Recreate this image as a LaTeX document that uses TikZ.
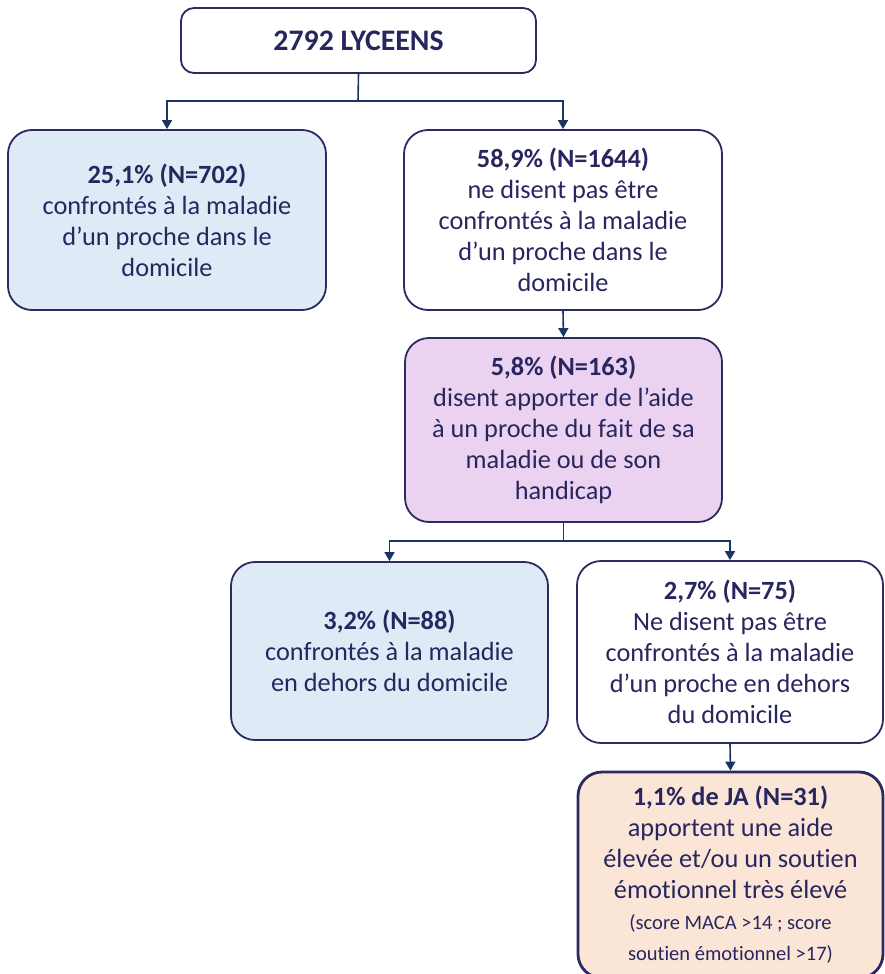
\documentclass[tikz,border=0pt]{standalone}
\usepackage{fontspec}
\setmainfont{Carlito}[Ligatures=NoCommon]
\usetikzlibrary{arrows.meta}

\definecolor{txtnavy}{RGB}{40,38,94}
\definecolor{boxline}{RGB}{43,42,98}
\definecolor{linkblue}{RGB}{28,52,100}
\definecolor{fillblue}{RGB}{222,234,246}
\definecolor{fillpurple}{RGB}{235,210,240}
\definecolor{fillorange}{RGB}{251,229,214}

\newcommand{\smalltxt}{\fontsize{20.5}{27}\selectfont}

\begin{document}
\begin{tikzpicture}[x=1pt,y=-1pt,
    box/.style={draw=boxline, line width=1.8pt, rounded corners=24pt, align=center,
        text=txtnavy, inner sep=0pt, font=\fontsize{26.3}{31}\selectfont},
    link/.style={draw=linkblue, line width=1.6pt},
    arr/.style={link, -{Triangle[length=9pt,width=10pt]}}]

    \useasboundingbox (0,0) rectangle (884,974);

    \node[box, rounded corners=13pt, minimum width=355, minimum height=65,
        font=\fontsize{29.8}{34}\selectfont\bfseries] at (358.5,40.5) (box0) {2792 LYCEENS};

    \node[box, fill=fillblue, minimum width=318, minimum height=180] at (167,220) (box1)
        {\textbf{25,1\% (N=702)}\\confrontés à la maladie\\d’un proche dans le\\domicile};
    \node[box, fill=white, minimum width=318, minimum height=180] at (563,220) (box2)
        {\textbf{58,9\% (N=1644)}\\ne disent pas être\\confrontés à la maladie\\d’un proche dans le\\domicile};

    \node[box, fill=fillpurple, minimum width=317, minimum height=184] at (563.5,430) (box3)
        {\textbf{5,8\% (N=163)}\\disent apporter de l’aide\\à un proche du fait de sa\\maladie ou de son\\handicap};

    \node[box, fill=fillblue, minimum width=317, minimum height=178] at (389.5,651) (box4)
        {\textbf{3,2\% (N=88)}\\confrontés à la maladie\\en dehors du domicile};
    \node[box, fill=white, minimum width=306, minimum height=182] at (730,652) (box5)
        {\textbf{2,7\% (N=75)}\\Ne disent pas être\\confrontés à la maladie\\d’un proche en dehors\\du domicile};

    \node[box, fill=fillorange, line width=2.8pt, minimum width=305, minimum height=206] at (730.5,875) (box6)
        {\textbf{1,1\% de JA (N=31)}\\apportent une aide\\élevée et/ou un soutien\\émotionnel très élevé\\
         \smalltxt (score MACA >14 ; score\\\smalltxt soutien émotionnel >17)};

    \coordinate (fork0) at (358,101);
    \coordinate (fork1) at (563.5,541);

    \draw[link] (box0.south) -- (fork0);
    \draw[arr] (fork0) -| (box1.north);
    \draw[arr] (fork0) -| (box2.north);
    \draw[arr] (box2.south) -- (box3.north);
    \draw[link] (box3.south) -- (fork1);
    \draw[arr] (fork1) -| (box4.north);
    \draw[arr] (fork1) -| (box5.north);
    \draw[arr] (box5.south) -- (box6.north);

\end{tikzpicture}
\end{document}
